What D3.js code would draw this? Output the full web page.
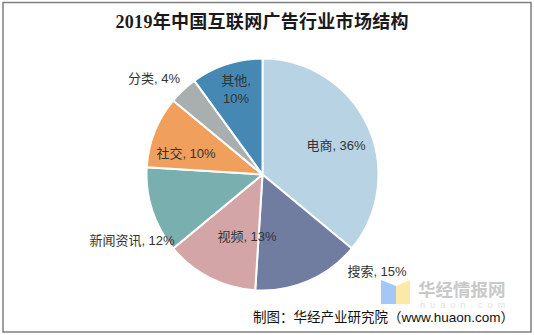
<!DOCTYPE html>
<html>
<head>
<meta charset="utf-8">
<script src="https://cdn.jsdelivr.net/npm/d3@7"></script>
<style>
  html, body { margin: 0; padding: 0; background: #fff; }
  svg { display: block; }
</style>
</head>
<body>
<svg id="chart" width="534" height="335"></svg>
<script>
// 2019年中国互联网广告行业市场结构
const categories = ["电商", "搜索", "视频", "新闻资讯", "社交", "分类", "其他"];
const shares = [36, 15, 13, 12, 10, 4, 10];
const sliceColors = ["#b7d3e4", "#717ca1", "#d4a5a6", "#79afaf", "#f0a05c", "#a9afaf", "#4488b3"];
// label anchor (centre x, baseline y) for each slice; "其他" wraps onto two lines
const labelPos = [
  [336, 150], [377, 276], [247, 241], [132, 245], [186, 158], [154, 83], [236, 85]
];

const W = 534, H = 335;
const cx = 262.5, cy = 174.5, R = 116;
const svg = d3.select("#chart");
const sansFont = "'Liberation Sans', Arial, 'Noto Sans CJK SC', sans-serif";

// outer frame
svg.append("rect")
  .attr("x", 3).attr("y", 2.5).attr("width", 528).attr("height", 329.5)
  .attr("fill", "none").attr("stroke", "#7f7f7f").attr("stroke-width", 1.5);

// title, fitted to span x = 115..408
const titleWidth = 293;
const title = svg.append("text")
  .attr("x", 262).attr("y", 28)
  .attr("text-anchor", "middle")
  .attr("font-family", "'Liberation Serif', 'Noto Sans CJK SC', serif")
  .attr("font-weight", "bold")
  .attr("font-size", 18)
  .attr("fill", "#1a1a1a")
  .text("2019年中国互联网广告行业市场结构");
const rawW = title.node().getComputedTextLength();
if (rawW > titleWidth) {
  title.attr("font-size", 18 * titleWidth / rawW);
} else {
  title.attr("textLength", titleWidth).attr("lengthAdjust", "spacing");
}

const data = categories.map((c, i) => ({ name: c, value: shares[i], color: sliceColors[i], pos: labelPos[i] }));

const pie = d3.pie().sort(null).value(d => d.value).startAngle(0).endAngle(2 * Math.PI);
const arc = d3.arc().innerRadius(0).outerRadius(R);

const g = svg.append("g").attr("transform", `translate(${cx},${cy})`);
g.selectAll("path.slice")
  .data(pie(data))
  .join("path")
  .attr("class", "slice")
  .attr("d", arc)
  .attr("fill", d => d.data.color)
  .attr("stroke", "#fff")
  .attr("stroke-width", 2)
  .attr("stroke-linejoin", "round");

// watermark logo
const wm = svg.append("g");
wm.append("path")
  .attr("d", "M381,280 L396,286 L396,304 L381,304 Z")
  .attr("fill", "#a3c8f5");
wm.append("path")
  .attr("d", "M410,280 L396,286 L396,304 L410,304 Z")
  .attr("fill", "#fbeaa7");
wm.append("text")
  .attr("x", 418).attr("y", 296)
  .attr("font-family", "'Noto Sans CJK SC', sans-serif")
  .attr("font-weight", "bold")
  .attr("font-size", 17.5)
  .attr("fill", "#c9c9c9")
  .text("华经情报网");
wm.append("text")
  .attr("x", 420).attr("y", 307.5)
  .attr("font-family", sansFont)
  .attr("font-size", 9.5)
  .attr("letter-spacing", 4.8)
  .attr("fill", "#e2e2e2")
  .text("huaon.com");

// slice labels
const labels = svg.append("g")
  .attr("font-family", sansFont)
  .attr("font-size", 13)
  .attr("fill", "#333")
  .attr("text-anchor", "middle");
data.forEach(d => {
  const t = labels.append("text").attr("x", d.pos[0]).attr("y", d.pos[1]);
  if (d.name === "其他") {
    t.append("tspan").attr("x", d.pos[0]).text(d.name + ",");
    t.append("tspan").attr("x", d.pos[0]).attr("dy", 17.5).text(d.value + "%");
  } else {
    t.text(`${d.name}, ${d.value}%`);
  }
});

// source note
svg.append("text")
  .attr("x", 514).attr("y", 322)
  .attr("text-anchor", "end")
  .attr("font-family", sansFont)
  .attr("font-size", 13.5)
  .attr("fill", "#111")
  .text("制图：华经产业研究院（www.huaon.com）");
</script>
</body>
</html>
